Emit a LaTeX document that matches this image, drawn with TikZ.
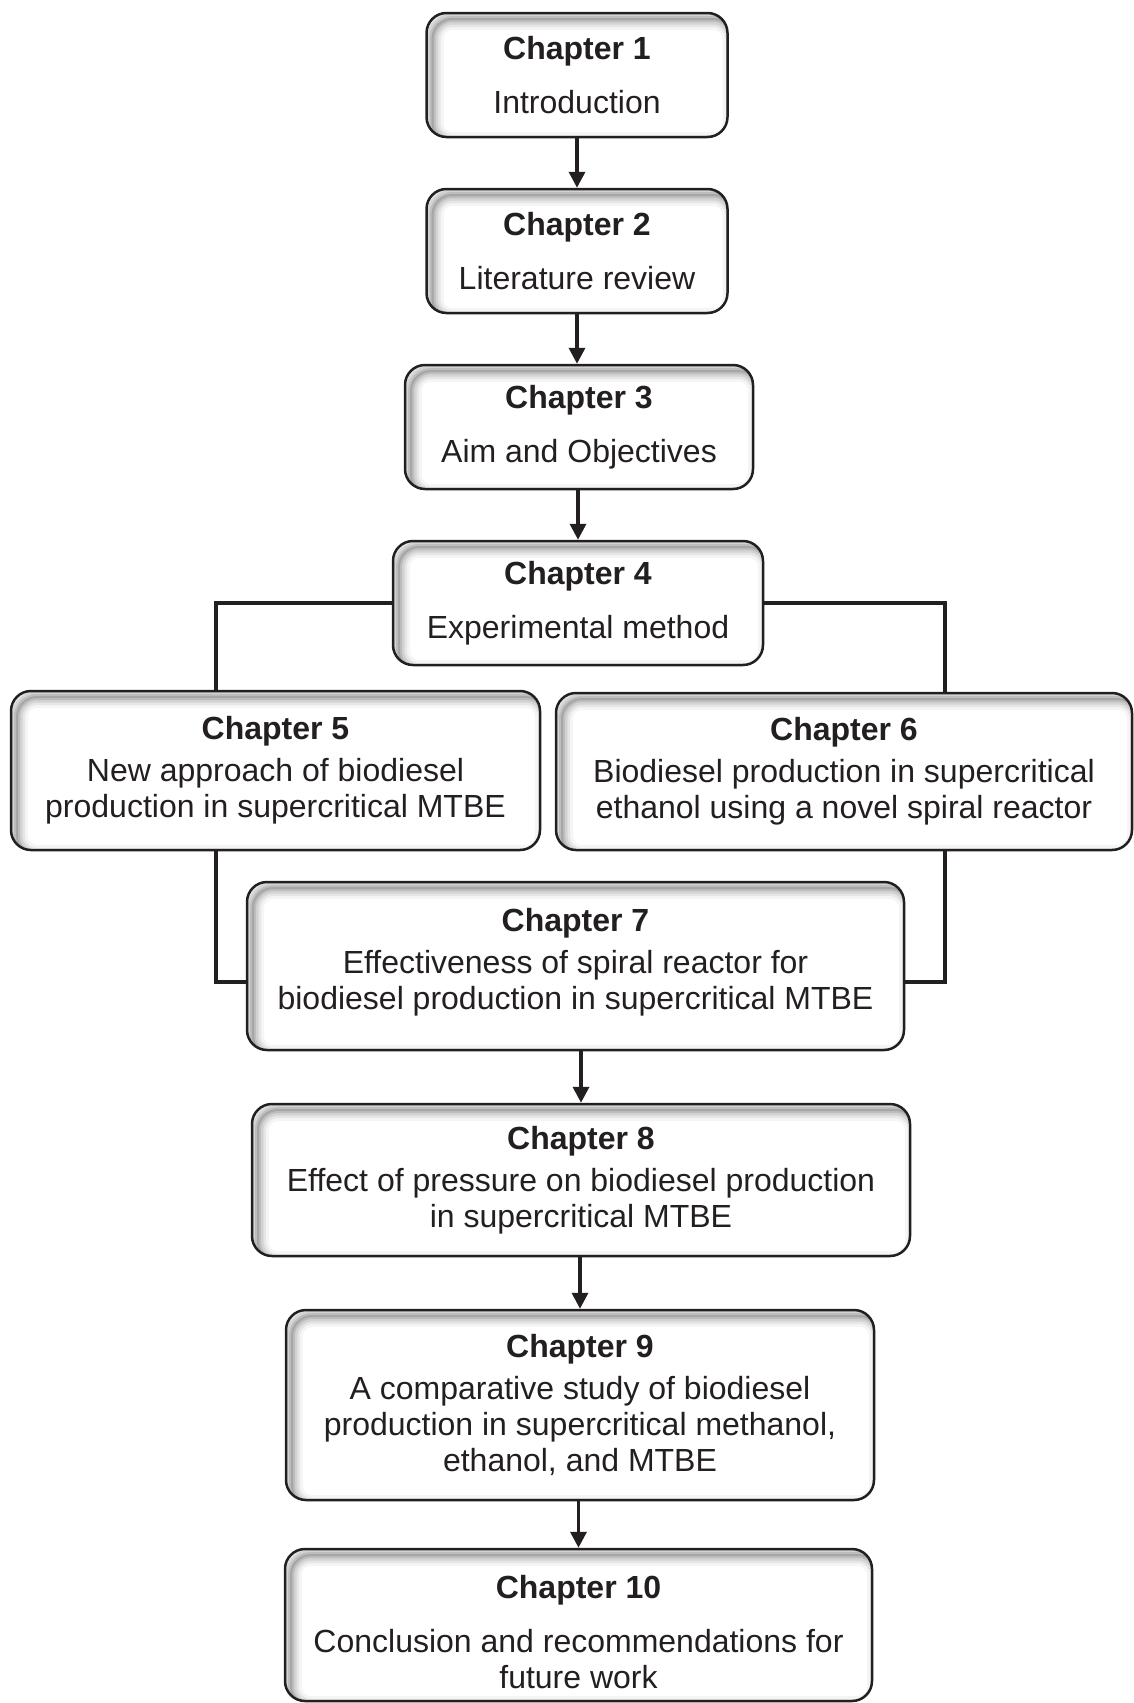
\documentclass[tikz,border=0pt]{standalone}
\usepackage{fontspec}
\setmainfont{Liberation Sans}
\usetikzlibrary{arrows.meta,calc}
\definecolor{ink}{RGB}{35,31,32}
\tikzset{
  chap/.style={draw=ink, line width=2.5pt, rounded corners=20pt, fill=white,
    align=center, text=ink, inner sep=0pt,
    font=\fontsize{32}{36}\selectfont,
    path picture={
      \foreach \w/\o in {22/0.04,16/0.06,11/0.08,6/0.1,2/0.12}{
        \draw[line width=\w pt, black, opacity=\o, rounded corners=20pt]
          ([shift={(6pt,-6pt)}]path picture bounding box.north west) rectangle
          ([shift={(6pt,-6pt)}]path picture bounding box.south east);
      }
    }},
  link/.style={draw=ink, line width=4pt},
  arr/.style={draw=ink, line width=3.5pt, -{Triangle[width=16pt,length=16pt]}}
}
\begin{document}
\begin{tikzpicture}[x=1pt,y=-1pt]
\useasboundingbox (0,0) rectangle (1133,1703);
\node[chap, minimum width=301pt, minimum height=124pt] (c1) at (577,75) {\textbf{Chapter 1}\\[18pt]Introduction};
\node[chap, minimum width=301pt, minimum height=124pt] (c2) at (577,251) {\textbf{Chapter 2}\\[18pt]Literature review};
\node[chap, minimum width=348pt, minimum height=124pt] (c3) at (579,427) {\textbf{Chapter 3}\\[18pt]Aim and Objectives};
\node[chap, minimum width=370pt, minimum height=124pt] (c4) at (578,603) {\textbf{Chapter 4}\\[18pt]Experimental method};
\node[chap, minimum width=529pt, minimum height=159pt] (c5) at (275.5,770.5) {\textbf{Chapter 5}\\[6pt]New approach of biodiesel\\production in supercritical MTBE};
\node[chap, minimum width=576pt, minimum height=157pt] (c6) at (844,771.5) {\textbf{Chapter 6}\\[6pt]Biodiesel production in supercritical\\ethanol using a novel spiral reactor};
\node[chap, minimum width=657pt, minimum height=168pt] (c7) at (575.5,966) {\textbf{Chapter 7}\\[6pt]Effectiveness of spiral reactor for\\biodiesel production in supercritical MTBE\rule[-14pt]{0pt}{14pt}};
\node[chap, minimum width=658pt, minimum height=152pt] (c8) at (581,1180) {\textbf{Chapter 8}\\[6pt]Effect of pressure on biodiesel production\\in supercritical MTBE};
\node[chap, minimum width=588pt, minimum height=190pt] (c9) at (580,1405) {\textbf{Chapter 9}\\[6pt]A comparative study of biodiesel\\production in supercritical methanol,\\ethanol, and MTBE};
\node[chap, minimum width=587pt, minimum height=152pt] (c10) at (578.5,1625) {\rule{0pt}{37pt}\textbf{Chapter 10}\\[18pt]Conclusion and recommendations for\\future work};
% vertical arrows
\draw[arr] (c1.south) -- (c1.south |- c2.north);
\draw[arr] (c2.south) -- (c2.south |- c3.north);
\draw[arr] (c3.south -| c4.north) -- (c4.north);
\draw[arr] (c7.south -| c8.north) -- (c8.north);
\draw[arr] (c8.south -| c9.north) -- (c9.north);
\draw[arr] (c9.south -| c10.north) -- (c10.north);
% branch connectors
\coordinate (lx) at (216,0);
\coordinate (rx) at (945,0);
\coordinate (jy) at (0,982);
\draw[link] (c4.west) -| (lx |- c5.north);
\draw[link] (c4.east) -| (rx |- c6.north);
\draw[link] (lx |- c5.south) |- (c7.west |- jy);
\draw[link] (rx |- c6.south) |- (c7.east |- jy);
\end{tikzpicture}
\end{document}
